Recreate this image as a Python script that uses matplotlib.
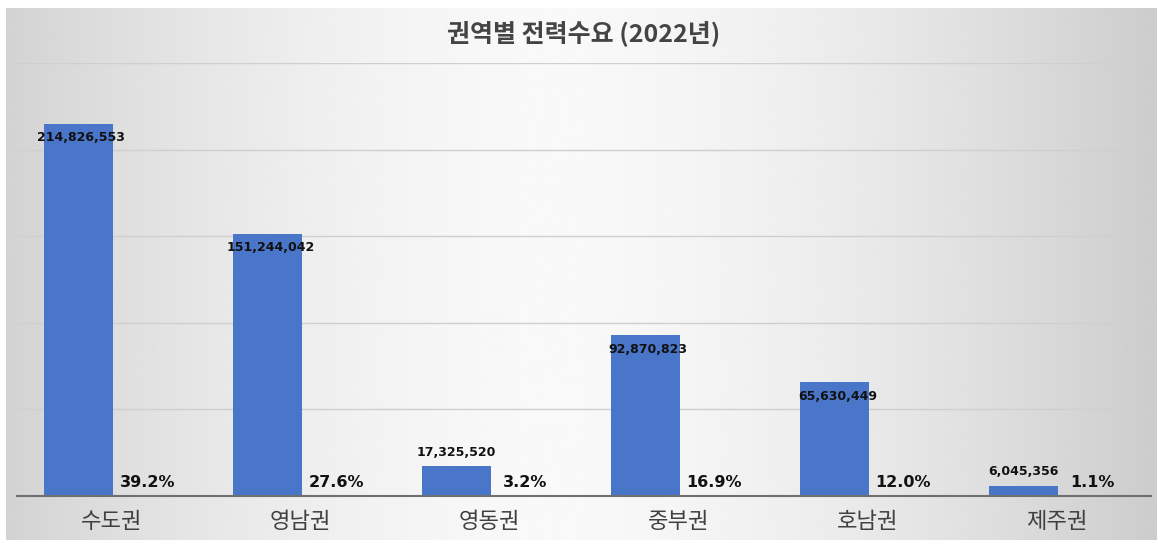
import numpy as np
import matplotlib.pyplot as plt

plt.rcParams['font.family'] = ['Noto Sans CJK KR', 'DejaVu Sans']

# data
regions = ["수도권", "영남권", "영동권", "중부권", "호남권", "제주권"]
demand = [214826553, 151244042, 17325520, 92870823, 65630449, 6045356]
title = "권역별 전력수요 (2022년)"

total = sum(demand)
share = [v / total * 100 for v in demand]

W, H = 1157, 540
fig = plt.figure(figsize=(W / 100, H / 100), dpi=100, facecolor="white")

# gray-white-gray background gradient
bg = fig.add_axes([6 / W, 0, 1 - 6 / W, 532 / H])
u = np.linspace(-1, 1, 600)
prof = 0.975 - 0.16 * np.abs(u + 0.05) ** 1.6
bg.imshow(prof[None, :], cmap="gray", vmin=0, vmax=1, aspect="auto",
          extent=[0, 1, 0, 1], interpolation="bicubic")
bg.axis("off")

ax = fig.add_axes([17 / W, (H - 496) / H, (1151 - 17) / W, (496 - 63) / H])
ax.patch.set_alpha(0)

x = np.arange(len(regions))
bw = 0.365
bars = ax.bar(x - 0.175, demand, width=bw, color="#4a76c9", zorder=3)

ax.set_xlim(-0.5, len(regions) - 0.5)
ax.set_ylim(0, 250e6)
ax.set_yticks(np.arange(50e6, 251e6, 50e6))
ax.yaxis.grid(True, color="#cfcfcf", linewidth=1, zorder=0)
ax.tick_params(axis="y", left=False, labelleft=False)
ax.tick_params(axis="x", length=0, pad=10)
ax.set_xticks(x)
ax.set_xticklabels(regions, fontsize=16, color="#404040")
for s in ["top", "left", "right"]:
    ax.spines[s].set_visible(False)
ax.spines["bottom"].set_color("#6f6f6f")
ax.spines["bottom"].set_linewidth(1.5)
ax.spines["bottom"].set_zorder(4)

for xi, v, p in zip(x, demand, share):
    if v > 30e6:
        ax.annotate(f"{v:,}", (xi - 0.175 + 0.015, v), xytext=(0, -10),
                    textcoords="offset points", ha="center", va="center",
                    fontsize=9, fontweight="bold", color="#111111",
                    family="DejaVu Sans", zorder=5)
    else:
        ax.annotate(f"{v:,}", (xi - 0.175, v), xytext=(0, 10),
                    textcoords="offset points", ha="center", va="center",
                    fontsize=9, fontweight="bold", color="#111111",
                    family="DejaVu Sans", zorder=5)
    ax.annotate(f"{p:.1f}%", (xi + 0.19, 0), xytext=(0, 9.5),
                textcoords="offset points", ha="center", va="center",
                fontsize=11.5, fontweight="bold", color="#111111",
                family="DejaVu Sans", zorder=5)

fig.text(584 / W, 1 - 33 / H, title, ha="center", va="center",
         fontsize=18, fontweight="bold", color="#444444")

fig.savefig("out.png", dpi=100, facecolor="white")
